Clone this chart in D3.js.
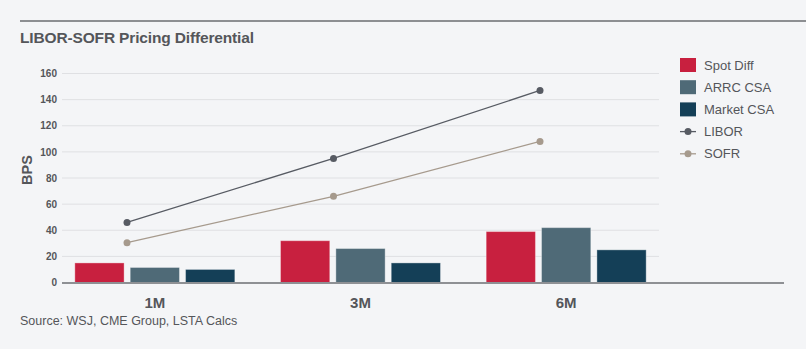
<!DOCTYPE html>
<html>
<head>
<meta charset="utf-8">
<script src="https://cdn.jsdelivr.net/npm/d3@7"></script>
<style>
  html, body { margin: 0; padding: 0; background: #f4f5f7; }
  svg { display: block; font-family: "Liberation Sans", Arial, sans-serif; }
</style>
</head>
<body>
<svg id="chart"></svg>
<script>
// データ
const categories = ["1M", "3M", "6M"];
const barSeries = ["Spot Diff", "ARRC CSA", "Market CSA"];
const spotDiff = [15, 32, 39];
const arrcCsa = [11.5, 26, 42];
const marketCsa = [10, 15, 25];
const libor = [46, 95, 147];
const sofr = [30.5, 66, 108];
const yTicks = [0, 20, 40, 60, 80, 100, 120, 140, 160];

const barValues = [spotDiff, arrcCsa, marketCsa];
const barColors = ["#c8203f", "#4f6a77", "#143f57"];
const liborColor = "#575b63";
const sofrColor = "#a69a8d";
const textColor = "#54565a";

const width = 806;
const height = 349;

const svg = d3.select("#chart")
  .attr("width", width)
  .attr("height", height);

svg.append("rect")
  .attr("width", width)
  .attr("height", height)
  .attr("fill", "#f4f5f7");

// 上の線とタイトル
svg.append("line")
  .attr("x1", 20).attr("x2", width)
  .attr("y1", 21).attr("y2", 21)
  .attr("stroke", "#6b6d70")
  .attr("stroke-width", 1.5);

svg.append("text")
  .attr("x", 20)
  .attr("y", 43)
  .attr("fill", textColor)
  .style("font-size", "15.5px")
  .style("font-weight", "bold")
  .style("letter-spacing", "-0.15px")
  .text("LIBOR-SOFR Pricing Differential");

// スケール
const x = d3.scaleBand()
  .domain(categories)
  .range([52, 669]);

const xInner = d3.scaleBand()
  .domain(barSeries)
  .range([x.bandwidth() / 2 - 80, x.bandwidth() / 2 + 80])
  .paddingInner(0.11);

const xLine = d3.scalePoint()
  .domain(categories)
  .range([127, 540]);

const y = d3.scaleLinear()
  .domain([0, 160])
  .range([282.5, 73.5]);

// グリッド線
svg.append("g")
  .selectAll("line")
  .data(yTicks.filter(d => d > 0))
  .enter()
  .append("line")
  .attr("x1", 62).attr("x2", 659)
  .attr("y1", d => y(d)).attr("y2", d => y(d))
  .attr("stroke", "#dfe0e3")
  .attr("stroke-width", 1);

// Y軸ラベル
const yAxis = svg.append("g")
  .attr("transform", "translate(62,0)")
  .call(d3.axisLeft(y).tickValues(yTicks).tickSize(0).tickPadding(5));
yAxis.select(".domain").remove();
yAxis.selectAll("text")
  .attr("fill", textColor)
  .style("font-size", "10px")
  .style("font-weight", "bold")
  .style("font-family", "\"Liberation Sans\", Arial, sans-serif");

svg.append("text")
  .attr("transform", "translate(32,170) rotate(-90)")
  .attr("text-anchor", "middle")
  .attr("fill", textColor)
  .style("font-size", "14.5px")
  .style("font-weight", "bold")
  .text("BPS");

// 棒グラフ
const groups = svg.append("g")
  .selectAll("g")
  .data(categories)
  .enter()
  .append("g")
  .attr("transform", d => `translate(${x(d)},0)`);

groups.selectAll("rect")
  .data((c, i) => barSeries.map((s, j) => ({ series: s, value: barValues[j][i], color: barColors[j] })))
  .enter()
  .append("rect")
  .attr("x", d => xInner(d.series))
  .attr("y", d => y(d.value))
  .attr("width", xInner.bandwidth())
  .attr("height", d => y(0) - y(d.value))
  .attr("fill", d => d.color)
  .attr("stroke", "#ffffff")
  .attr("stroke-opacity", 0.35)
  .attr("stroke-width", 1);

// 横軸の線
svg.append("line")
  .attr("x1", 62).attr("x2", 784)
  .attr("y1", y(0) + 0.5).attr("y2", y(0) + 0.5)
  .attr("stroke", "#8e9094")
  .attr("stroke-width", 2);

// カテゴリラベル
const xAxis = svg.append("g")
  .attr("transform", `translate(0,${y(0)})`)
  .call(d3.axisBottom(x).tickSize(0).tickPadding(15));
xAxis.select(".domain").remove();
xAxis.selectAll("text")
  .attr("fill", textColor)
  .style("font-size", "15px")
  .style("font-weight", "bold")
  .style("font-family", "\"Liberation Sans\", Arial, sans-serif");

// 折れ線
const lines = [
  { name: "LIBOR", values: libor, color: liborColor },
  { name: "SOFR", values: sofr, color: sofrColor }
];

const lineGen = d3.line()
  .x((d, i) => xLine(categories[i]))
  .y(d => y(d));

lines.forEach(l => {
  svg.append("path")
    .attr("d", lineGen(l.values))
    .attr("fill", "none")
    .attr("stroke", l.color)
    .attr("stroke-width", 1.3);
  svg.append("g")
    .selectAll("circle")
    .data(l.values)
    .enter()
    .append("circle")
    .attr("cx", (d, i) => xLine(categories[i]))
    .attr("cy", d => y(d))
    .attr("r", 3.5)
    .attr("fill", l.color);
});

// 凡例
const legendItems = [
  { name: "Spot Diff", type: "bar", color: barColors[0] },
  { name: "ARRC CSA", type: "bar", color: barColors[1] },
  { name: "Market CSA", type: "bar", color: barColors[2] },
  { name: "LIBOR", type: "line", color: liborColor },
  { name: "SOFR", type: "line", color: sofrColor }
];

const legend = svg.append("g")
  .selectAll("g")
  .data(legendItems)
  .enter()
  .append("g")
  .attr("transform", (d, i) => `translate(680,${65 + i * 22.2})`);

legend.filter(d => d.type === "bar")
  .append("rect")
  .attr("x", 0).attr("y", -7)
  .attr("width", 16).attr("height", 14)
  .attr("fill", d => d.color);

legend.filter(d => d.type === "line")
  .append("line")
  .attr("x1", 0).attr("x2", 16)
  .attr("stroke", d => d.color)
  .attr("stroke-width", 1.3);

legend.filter(d => d.type === "line")
  .append("circle")
  .attr("cx", 8)
  .attr("r", 3.5)
  .attr("fill", d => d.color);

legend.append("text")
  .attr("x", 24)
  .attr("dy", "0.35em")
  .attr("fill", textColor)
  .style("font-size", "13px")
  .text(d => d.name);

// 出典
svg.append("text")
  .attr("x", 20)
  .attr("y", 325)
  .attr("fill", textColor)
  .style("font-size", "12.5px")
  .text("Source: WSJ, CME Group, LSTA Calcs");
</script>
</body>
</html>
